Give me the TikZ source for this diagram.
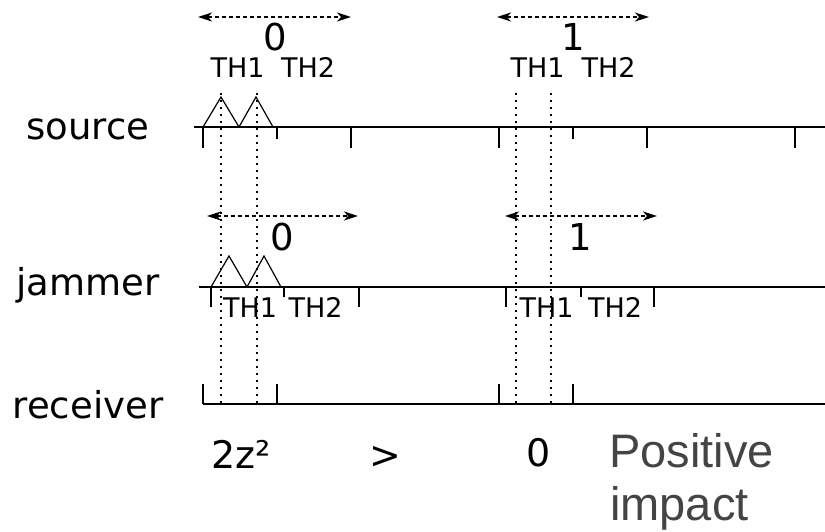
\documentclass[tikz,border=0pt]{standalone}
\usepackage{fontspec}
\setmainfont{DejaVu Sans}
\newfontfamily\impactfont{Liberation Sans}
\usetikzlibrary{arrows.meta}
\definecolor{impactgray}{HTML}{444444}
\begin{document}
\begin{tikzpicture}[x=1pt,y=-1pt,
  >={Stealth[length=14pt,width=9pt,inset=4pt]},
  line/.style={line width=1.2pt},
  span/.style={line width=1.1pt,dash pattern=on 4pt off 3pt,<->},
  marker/.style={line width=1.5pt,dash pattern=on 1.5pt off 5.5pt},
  row/.style={anchor=base,inner sep=0pt,font=\fontsize{37}{40}\selectfont},
  digit/.style={anchor=base,inner sep=0pt,font=\fontsize{37}{40}\selectfont},
  slot/.style={anchor=base,inner sep=0pt,font=\fontsize{27}{30}\selectfont},
  result/.style={anchor=base,inner sep=0pt,font=\fontsize{38}{40}\selectfont}]
\useasboundingbox (0,0) rectangle (825,531);
\node[row] (src) at (88,139) {source};
\node[row] (jam) at (88,295) {jammer};
\node[row] (rcv) at (88,418) {receiver};
\draw[line] (194,127) -- (825,127);
\foreach \x in {203,351,499,647,795} \draw[line] (\x,127) -- (\x,148);
\foreach \x in {277,573} \draw[line] (\x,127) -- (\x,139);
\draw[line] (203,127) -- (221,97) -- (239,127) -- (256,97) -- (273,127);
\draw[line] (199,287) -- (825,287);
\foreach \x in {211,359,506,654} \draw[line] (\x,287) -- (\x,307);
\foreach \x in {284,581} \draw[line] (\x,287) -- (\x,297);
\draw[line] (211,287) -- (229,256) -- (247,287) -- (264,256) -- (281,287);
\draw[line] (203,404) -- (825,404);
\foreach \x in {203,277,499,573} \draw[line] (\x,404) -- (\x,384);
\foreach \x in {221,257,516,551} \draw[marker] (\x,93) -- (\x,403);
\draw[span] (198,17) -- (351,17);
\draw[span] (497,17) -- (649,17);
\draw[span] (207,216) -- (358,216);
\draw[span] (505,216) -- (657,216);
\node[digit] (src0) at (275,50) {0};
\node[digit] (src1) at (573,50) {1};
\node[slot] (srcA) at (237.5,77) {TH1};
\node[slot] (srcB) at (308,77) {TH2};
\node[slot] (srcC) at (537.5,77) {TH1};
\node[slot] (srcD) at (608.5,77) {TH2};
\node[digit] (jam0) at (282,250) {0};
\node[digit] (jam1) at (580,250) {1};
\node[slot] (jamA) at (250,317) {TH1};
\node[slot] (jamB) at (315.5,317) {TH2};
\node[slot] (jamC) at (546.5,317) {TH1};
\node[slot] (jamD) at (615,317) {TH2};
\node[result] (lhs) at (241.5,468) {2z²};
\node[result] (cmp) at (385,468) {>};
\node[result] (rhs) at (539,466) {0};
\node[anchor=base west,inner sep=0pt,text=impactgray,font=\impactfont\fontsize{47}{53}\selectfont] (pos) at (609,467) {Positive};
\node[anchor=base west,inner sep=0pt,text=impactgray,font=\impactfont\fontsize{47}{53}\selectfont] (imp) at (610,520) {impact};
\end{tikzpicture}
\end{document}
